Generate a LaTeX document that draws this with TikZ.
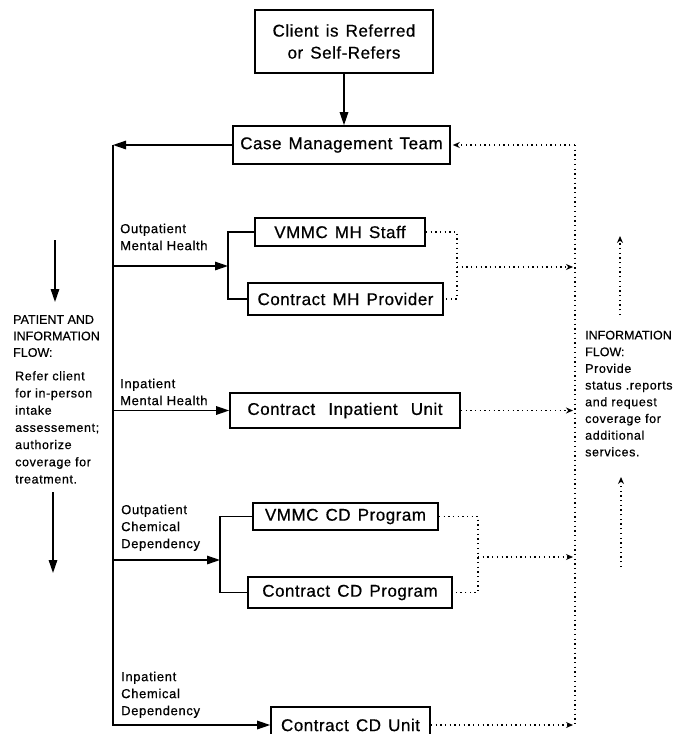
\documentclass[tikz,border=0pt]{standalone}
\usepackage{fontspec}
\setmainfont{Liberation Sans}
\newfontfamily\boxfont{Liberation Sans}[LetterSpace=3,FakeBold=0.6]
\newfontfamily\labfont{Liberation Sans}[LetterSpace=5,FakeBold=0.6]
\newfontfamily\hdrfont{Liberation Sans}[FakeBold=0.4]
\newcommand\boxsetup{\boxfont\fontsize{17}{22}\selectfont\spaceskip=0.42em\relax}
\usetikzlibrary{arrows.meta}
\begin{document}
\begin{tikzpicture}[x=1pt,y=-1pt,
  box/.style={draw, line width=1.6pt, inner sep=0pt, align=center,
    font=\boxsetup},
  conn/.style={line width=1.4pt},
  arr/.style={conn, -{Triangle[length=13pt,width=8.5pt]}},
  dot/.style={line width=1.3pt, dash pattern=on 1.3pt off 3.4pt},
  dotarr/.style={dot, -{Stealth[length=7pt,width=6pt]}},
  lab/.style={anchor=north west, inner sep=0pt, align=left,
    font=\labfont\fontsize{13}{17}\selectfont},
  body/.style={anchor=north west, inner sep=0pt, align=left,
    font=\labfont\fontsize{12.5}{17.2}\selectfont},
  hdr/.style={anchor=north west, inner sep=0pt, align=left,
    font=\hdrfont\fontsize{12.5}{16.5}\selectfont}
]
\useasboundingbox (0,0) rectangle (673,734);
\clip (0,0) rectangle (673,734);

% boxes
\node[box, minimum width=178pt, minimum height=63pt] (client) at (344,41.5) {Client is Referred\\or Self-Refers};
\node[box, minimum width=217pt, minimum height=38pt] (cmt) at (341.5,145) {Case Management Team};
\node[box, minimum width=170pt, minimum height=28pt] (vmh) at (340,232) {VMMC MH Staff};
\node[box, minimum width=195pt, minimum height=32pt] (cmh) at (345.5,299) {Contract MH Provider};
\node[box, minimum width=230pt, minimum height=35pt] (ciu) at (345,410.5) {Contract\hspace{6pt} Inpatient\hspace{6pt} Unit};
\node[box, minimum width=185pt, minimum height=27pt] (vcd) at (345.5,516.5) {VMMC CD Program};
\node[box, minimum width=204pt, minimum height=31pt] (ccd) at (350,592.5) {Contract CD Program};
\node[box, minimum width=159pt, minimum height=36pt] (ccu) at (350.5,725) {Contract CD Unit};

% solid connectors
\coordinate (tl) at (113,145);
\coordinate (b1) at (113,266);
\coordinate (j1) at (228,266);
\coordinate (b3) at (113,560);
\coordinate (j3) at (220,560);

\draw[arr] (client.south) -- (client.south |- cmt.north);
\draw[arr] (cmt.west) -- (tl);
\draw[arr] (tl) -- (tl |- ccu.west) -- (ccu.west);
\draw[arr] (b1) -- (j1);
\draw[conn] (vmh.west) -| (j1) |- (cmh.west);
\draw[arr] (tl |- ciu.west) -- (ciu.west);
\draw[arr] (b3) -- (j3);
\draw[conn] (vcd.west) -| (j3) |- (ccd.west);

% dotted connectors
\coordinate (rt) at (575,145);
\coordinate (d1) at (457,267);
\coordinate (d3) at (478,557);
\draw[dot] (rt) -- (rt |- ccu.east);
\draw[dotarr, shorten >=2pt] (rt) -- (cmt.east);
\draw[dot] (vmh.east) -| (d1) |- (cmh.east);
\draw[dotarr, shorten >=2pt] (d1) -- (rt |- d1);
\draw[dotarr, shorten >=2pt] (ciu.east) -- (rt |- ciu.east);
\draw[dot] (vcd.east) -| (d3) |- (ccd.east);
\draw[dotarr, shorten >=2pt] (d3) -- (rt |- d3);
\draw[dotarr, shorten >=2pt] (ccu.east) -- (rt |- ccu.east);

% right side small flow arrows
\coordinate (u1a) at (620,315);
\coordinate (u1b) at (620,236);
\coordinate (u2a) at (621,567);
\coordinate (u2b) at (621,477);
\draw[dotarr] (u1a) -- (u1b);
\draw[dotarr] (u2a) -- (u2b);

% left side flow arrows
\coordinate (l1a) at (55,240);
\coordinate (l1b) at (55,302);
\coordinate (l2a) at (53,492);
\coordinate (l2b) at (53,573);
\draw[arr] (l1a) -- (l1b);
\draw[arr] (l2a) -- (l2b);

% branch labels
\node[lab] (lab1) at (120,223.5) {Outpatient\\Mental Health};
\node[lab] (lab2) at (120,378.5) {Inpatient\\Mental Health};
\node[lab] (lab3) at (121,504.5) {Outpatient\\Chemical\\Dependency};
\node[lab] (lab4) at (121,671.5) {Inpatient\\Chemical\\Dependency};

% left text
\node[hdr] (lhdr) at (13,315) {PATIENT AND\\INFORMATION\\FLOW:};
\node[body] (lbody) at (15,371) {Refer client\\for in-person\\intake\\assessement;\\authorize\\coverage for\\treatment.};

% right text
\node[body, font=\labfont\fontsize{12.5}{16.7}\selectfont] (rtext) at (585,330.5) {{\hdrfont INFORMATION}\\{\hdrfont FLOW:}\\Provide\\status .reports\\and request\\coverage for\\additional\\services.};
\end{tikzpicture}
\end{document}
